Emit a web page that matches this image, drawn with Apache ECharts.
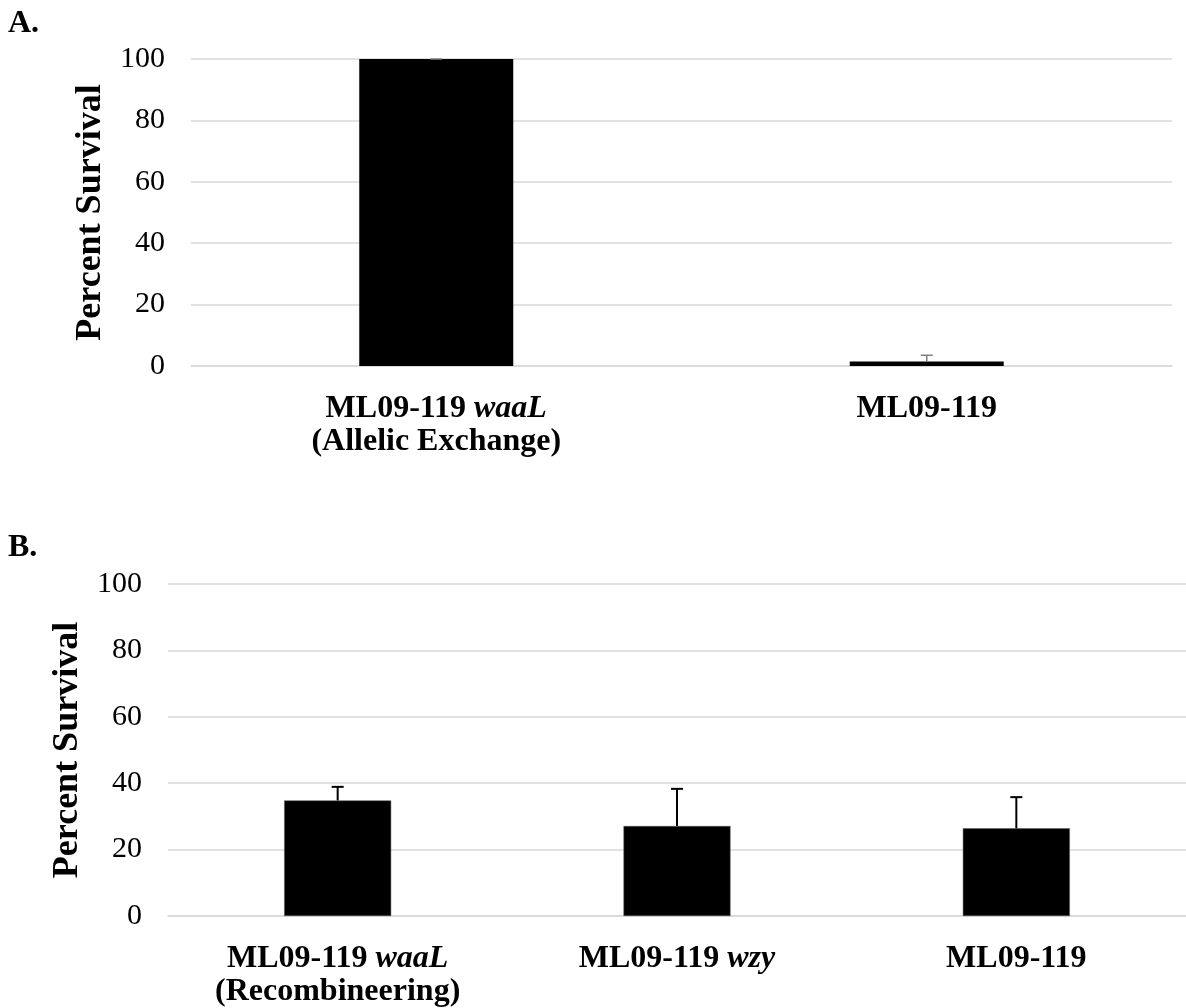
<!DOCTYPE html>
<html>
<head>
<meta charset="utf-8">
<script src="https://cdn.jsdelivr.net/npm/echarts@6/dist/echarts.min.js"></script>
<style>
  html, body { margin: 0; padding: 0; background: #fff; }
  #chart { width: 1186px; height: 1008px; }
</style>
</head>
<body>
<div id="chart"></div>
<script>
// Panel A: allelic exchange mutant vs. parent strain
const strainsA = ['ML09-119', 'ML09-119'];
const genesA = ['waaL', ''];
const methodsA = ['(Allelic Exchange)', ''];
const survivalA = [100, 1.5];
const errorA = [0, 2.0];

// Panel B: recombineering mutants vs. parent strain
const strainsB = ['ML09-119', 'ML09-119', 'ML09-119'];
const genesB = ['waaL', 'wzy', ''];
const methodsB = ['(Recombineering)', '', ''];
const survivalB = [34.8, 27.1, 26.4];
const errorB = [4.1, 11.2, 9.4];

const yTicks = [0, 20, 40, 60, 80, 100];

const FONT = '"Liberation Serif", "Times New Roman", serif';

function categoryKeys(strains, genes, methods) {
  return strains.map((s, i) => [s, genes[i], methods[i]].filter(Boolean).join(' '));
}
const catA = categoryKeys(strainsA, genesA, methodsA);
const catB = categoryKeys(strainsB, genesB, methodsB);

function labelFormatter(strains, genes, methods, cats) {
  return function (value) {
    const i = cats.indexOf(value);
    let s = '{b|' + strains[i] + (genes[i] ? ' ' : '') + '}';
    if (genes[i]) s += '{bi|' + genes[i] + '}';
    if (methods[i]) s += '\n{b|' + methods[i] + '}';
    return s;
  };
}

const richLabel = {
  b: { fontFamily: FONT, fontWeight: 'bold', fontSize: 32, color: '#000', lineHeight: 33 },
  bi: { fontFamily: FONT, fontWeight: 'bold', fontStyle: 'italic', fontSize: 32, color: '#000', lineHeight: 33 }
};

function errorBarRenderer(color, lineWidth) {
  return function (params, api) {
    const x = api.value(0);
    const v = api.value(1);
    const e = api.value(2);
    const base = api.coord([x, v]);
    const top = api.coord([x, v + e]);
    const half = 6;
    return {
      type: 'group',
      children: [
        { type: 'line', shape: { x1: base[0], y1: base[1], x2: top[0], y2: top[1] },
          style: { stroke: color, lineWidth: lineWidth } },
        { type: 'line', shape: { x1: top[0] - half, y1: top[1], x2: top[0] + half, y2: top[1] },
          style: { stroke: color, lineWidth: lineWidth } }
      ]
    };
  };
}

function yAxisCfg(gridIndex, gap) {
  return {
    gridIndex: gridIndex,
    type: 'value',
    min: 0, max: 100, interval: 20,
    name: 'Percent Survival',
    nameLocation: 'middle',
    nameRotate: 90,
    nameGap: gap,
    nameTextStyle: { fontFamily: FONT, fontWeight: 'bold', fontSize: 36, color: '#000' },
    axisLine: { show: false },
    axisTick: { show: false },
    axisLabel: { fontFamily: FONT, fontSize: 30, color: '#000', margin: 26,
      formatter: v => yTicks.includes(v) ? String(v) : '' },
    splitLine: { lineStyle: { color: '#d9d9d9', width: 1.5 } }
  };
}

function xAxisCfg(gridIndex, cats, strains, genes, methods) {
  return {
    gridIndex: gridIndex,
    type: 'category',
    data: cats,
    axisLine: { lineStyle: { color: '#d9d9d9', width: 1.5 } },
    axisTick: { show: false },
    axisLabel: { margin: 26, formatter: labelFormatter(strains, genes, methods, cats), rich: richLabel }
  };
}

const chart = echarts.init(document.getElementById('chart'), null, { renderer: 'canvas' });
chart.setOption({
  backgroundColor: '#fff',
  animation: false,
  graphic: [
    { type: 'text', left: 8, top: 8, style: { text: 'A.', fontFamily: FONT, fontWeight: 'bold', fontSize: 32, fill: '#000' } },
    { type: 'text', left: 8, top: 532, style: { text: 'B.', fontFamily: FONT, fontWeight: 'bold', fontSize: 32, fill: '#000' } }
  ],
  grid: [
    { left: 191, top: 59, width: 981, height: 307 },
    { left: 168, top: 584, width: 1023, height: 332 }
  ],
  xAxis: [
    xAxisCfg(0, catA, strainsA, genesA, methodsA),
    xAxisCfg(1, catB, strainsB, genesB, methodsB)
  ],
  yAxis: [yAxisCfg(0, 80), yAxisCfg(1, 82)],
  series: [
    { type: 'bar', xAxisIndex: 0, yAxisIndex: 0, data: survivalA, barWidth: 154,
      itemStyle: { color: '#000' } },
    { type: 'custom', xAxisIndex: 0, yAxisIndex: 0, z: 5,
      data: survivalA.map((v, i) => [i, v, errorA[i]]),
      renderItem: errorBarRenderer('#7f7f7f', 1.5) },
    { type: 'bar', xAxisIndex: 1, yAxisIndex: 1, data: survivalB, barWidth: 107,
      itemStyle: { color: '#000', borderColor: '#595959', borderWidth: 0.5 } },
    { type: 'custom', xAxisIndex: 1, yAxisIndex: 1, z: 5,
      data: survivalB.map((v, i) => [i, v, errorB[i]]),
      renderItem: errorBarRenderer('#000', 2) }
  ]
});
</script>
</body>
</html>
